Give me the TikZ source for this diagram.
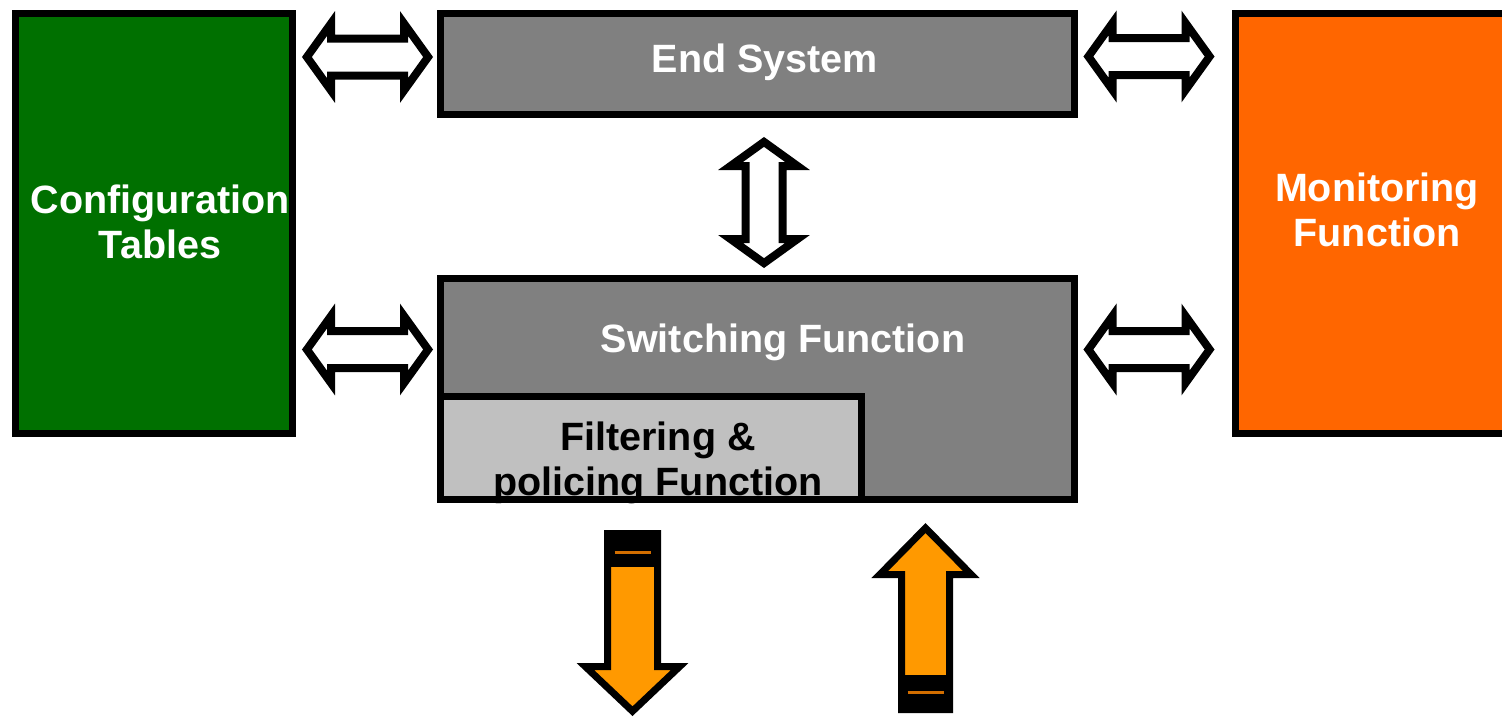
\documentclass[tikz,border=0pt]{standalone}
\usepackage{fontspec}
\setmainfont{Liberation Sans}
\usetikzlibrary{calc}

\definecolor{cfggreen}{RGB}{0,112,0}
\definecolor{monorange}{RGB}{255,102,0}
\definecolor{flowornage}{RGB}{255,153,0}
\definecolor{stripe}{RGB}{210,110,0}
\definecolor{midgray}{RGB}{128,128,128}
\definecolor{lightgray2}{RGB}{192,192,192}

\tikzset{
  box/.style={draw=black, line width=7pt, rectangle, inner sep=0pt},
  lbl/.style={font=\bfseries\fontsize{39.5}{45}\selectfont, align=center, inner sep=0pt, text=white},
  blockarrow/.style={draw=black, fill=white, line width=8pt, line join=miter},
  flowarrow/.style={draw=black, fill=flowornage, line width=7pt, line join=miter},
  pics/dblarrow/.style={code={
    \draw[blockarrow] (-60.6,0) -- (-36.5,33.5) -- (-36.5,18.5) -- (36.5,18.5) -- (36.5,33.5)
      -- (60.6,0) -- (36.5,-33.5) -- (36.5,-18.5) -- (-36.5,-18.5) -- (-36.5,-33.5) -- cycle;
  }},
}

\begin{document}
\begin{tikzpicture}[x=1pt, y=-1pt]
  \useasboundingbox (0,0) rectangle (1502,716);

  % main blocks
  \node[box, fill=cfggreen, minimum width=277pt, minimum height=420pt] (cfg) at (154,223.5) {};
  \node[box, fill=midgray, minimum width=634pt, minimum height=101pt] (es) at (757.5,64) {};
  \node[box, fill=midgray, minimum width=634pt, minimum height=221pt] (sw) at (757.5,389) {};
  \node[box, fill=monorange, minimum width=284.5pt, minimum height=420pt] (mon) at (1377.75,223.5) {};

  % filtering block: fill, text, then border on top of the text
  \node[rectangle, inner sep=0pt, fill=lightgray2, minimum width=421pt, minimum height=103pt] (flt) at (651,448) {};

  % labels
  \node[lbl] (cfgtxt) at (160,222) {Configuration\\Tables};
  \node[lbl] (estxt) at (765,62) {End System};
  \node[lbl] (swtxt) at (783,342) {Switching Function};
  \node[lbl] (montxt) at (1377,210) {Monitoring\\Function};
  \node[lbl, text=black, anchor=base] (flttxt1) at (658,450) {Filtering \&};
  \node[lbl, text=black, anchor=base] (flttxt2) at (658,495) {policing Function};

  \draw[line width=7pt] (flt.south west) rectangle (flt.north east);

  % bidirectional block arrows
  \coordinate (a1) at (367.5,57);
  \coordinate (a2) at (367.5,349.5);
  \coordinate (a3) at (1149,56.5);
  \coordinate (a4) at (1149,349.5);
  \coordinate (a5) at (764,202.5);
  \pic at (a1) {dblarrow};
  \pic at (a2) {dblarrow};
  \pic at (a3) {dblarrow};
  \pic at (a4) {dblarrow};
  \pic[rotate=90] at (a5) {dblarrow};

  % outgoing flow arrow
  \coordinate (outtop) at (632.5,533.5);
  \draw[flowarrow] ($(outtop)+(-25,0)$) -- ($(outtop)+(25,0)$) -- ($(outtop)+(25,133)$)
    -- ($(outtop)+(47.2,133)$) -- ($(outtop)+(0,177.7)$) -- ($(outtop)+(-47.2,133)$)
    -- ($(outtop)+(-25,133)$) -- cycle;
  \fill[black] ($(outtop)+(-28.5,-3.5)$) rectangle ($(outtop)+(28.5,33.5)$);
  \draw[stripe, line width=3pt] ($(outtop)+(-18,18.5)$) -- ($(outtop)+(18,18.5)$);

  % incoming flow arrow
  \coordinate (inbot) at (925.5,709.5);
  \draw[flowarrow] ($(inbot)+(-24,0)$) -- ($(inbot)+(24,0)$) -- ($(inbot)+(24,-135)$)
    -- ($(inbot)+(45.7,-135)$) -- ($(inbot)+(0,-181.5)$) -- ($(inbot)+(-45.7,-135)$)
    -- ($(inbot)+(-24,-135)$) -- cycle;
  \fill[black] ($(inbot)+(-27.5,3.5)$) rectangle ($(inbot)+(27.5,-34.5)$);
  \draw[stripe, line width=3pt] ($(inbot)+(-18,-17.5)$) -- ($(inbot)+(18,-17.5)$);
\end{tikzpicture}
\end{document}
